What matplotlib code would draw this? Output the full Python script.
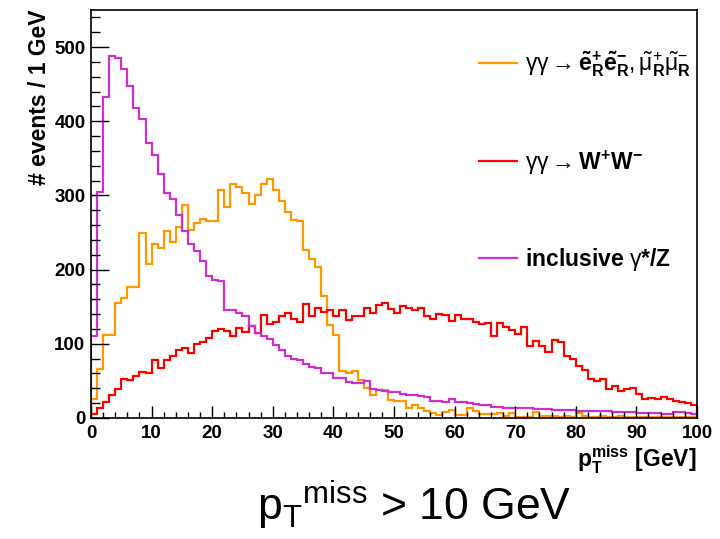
import numpy as np
import matplotlib
matplotlib.use("Agg")
import matplotlib.pyplot as plt

plt.rcParams["font.family"] = ["Liberation Sans", "DejaVu Sans"]
plt.rcParams["mathtext.fontset"] = "custom"
plt.rcParams["mathtext.rm"] = "Liberation Sans"
plt.rcParams["mathtext.it"] = "Liberation Sans:italic"
plt.rcParams["mathtext.bf"] = "Liberation Sans:bold"

# 1 GeV bins from 0 to 100 GeV
bin_edges = np.arange(0, 101)

sleptons = [
    26, 66, 112, 112, 155, 162, 176, 177, 249, 207,
    235, 229, 252, 237, 258, 287, 254, 263, 268, 265,
    266, 307, 285, 315, 312, 303, 288, 300, 315, 322,
    308, 292, 278, 267, 266, 226, 214, 204, 164, 125,
    112, 64, 60, 64, 51, 40, 31, 38, 38, 24,
    23, 23, 13, 18, 13, 10, 7, 4, 8, 11,
    4, 4, 13, 10, 6, 5, 5, 7, 3, 7,
    2, 2, 2, 8, 3, 3, 3, 2, 3, 2,
    7, 3, 2, 2, 3, 2, 2, 3, 2, 2,
    1, 2, 2, 1, 2, 1, 1, 2, 1, 1,
]
ww = [
    5, 14, 21, 31, 39, 53, 51, 57, 62, 60,
    78, 68, 78, 84, 92, 94, 87, 100, 103, 108,
    117, 120, 117, 110, 121, 116, 124, 114, 139, 127,
    130, 137, 142, 133, 130, 153, 137, 148, 143, 145,
    137, 145, 132, 137, 137, 148, 141, 152, 155, 147,
    141, 151, 148, 145, 148, 137, 134, 140, 139, 131,
    139, 133, 134, 130, 127, 128, 111, 128, 123, 119,
    113, 123, 97, 104, 97, 89, 105, 102, 84, 80,
    70, 65, 53, 50, 53, 39, 43, 36, 39, 40,
    32, 26, 27, 25, 28, 25, 23, 22, 20, 17,
]
inclusive = [
    110, 304, 433, 488, 485, 470, 447, 418, 403, 371,
    354, 329, 303, 295, 274, 252, 234, 225, 211, 191,
    186, 185, 146, 146, 141, 138, 124, 115, 111, 107,
    98, 92, 83, 80, 78, 73, 69, 67, 61, 61,
    54, 54, 49, 47, 47, 50, 39, 38, 37, 35,
    35, 33, 31, 31, 29, 28, 23, 23, 22, 26,
    22, 21, 20, 19, 18, 17, 15, 15, 14, 14,
    14, 13, 14, 12, 12, 12, 11, 11, 11, 11,
    9, 9, 9, 9, 9, 9, 8, 8, 8, 8,
    7, 7, 7, 7, 6, 6, 8, 8, 7, 5,
]

labels = [
    r"$\mathrm{\gamma\gamma} \rightarrow \mathbf{\tilde{e}^{+}_{R}\tilde{e}^{-}_{R}}, "
    r"\mathrm{\tilde{\mu}}^{+}_{\mathbf{R}}\mathrm{\tilde{\mu}}^{-}_{\mathbf{R}}$",
    r"$\mathrm{\gamma\gamma} \rightarrow \mathbf{W^{+}W^{-}}$",
    r"inclusive $\mathrm{\gamma}$*/Z",
]
colors = ["#ff9900", "#ff0000", "#cc33cc"]

fig = plt.figure(figsize=(7.2, 5.39), dpi=100)
ax = fig.add_axes([0.1264, 0.2245, 0.8416, 0.757])

handles = []
for vals, col, lab in zip([sleptons, ww, inclusive], colors, labels):
    h = ax.stairs(vals, bin_edges, color=col, linewidth=1.6, label=lab)
    handles.append(h)

ax.set_xlim(0, 100)
ax.set_ylim(0, 550)
ax.set_xticks(np.arange(0, 101, 10))
ax.set_xticks(np.arange(0, 101, 2), minor=True)
ax.set_yticks(np.arange(0, 501, 100))
ax.set_yticks(np.arange(0, 541, 20), minor=True)
ax.tick_params(axis="both", which="both", direction="in", labelsize=13.5, width=1)
ax.tick_params(axis="y", which="major", length=13, pad=4)
ax.tick_params(axis="y", which="minor", length=6.5)
ax.tick_params(axis="x", which="major", length=9, pad=5)
ax.tick_params(axis="x", which="minor", length=4.5)
for lab in ax.get_xticklabels() + ax.get_yticklabels():
    lab.set_fontweight("bold")
for sp in ax.spines.values():
    sp.set_linewidth(1.2)

ax.set_ylabel("# events / 1 GeV", fontsize=16.5, fontweight="bold", loc="top", labelpad=2.5)
ax.set_xlabel(r"$\mathbf{p_{T}^{miss}}$ [GeV]", fontsize=16.5, fontweight="bold",
              loc="right", labelpad=1)

leg = ax.legend(handles=handles, loc="upper left", bbox_to_anchor=(0.64, 0.903),
                frameon=False, prop={"weight": "bold", "size": 16.5},
                borderpad=0, borderaxespad=0,
                handlelength=1.66, handletextpad=0.35, labelspacing=3.02)

fig.text(0.576, 0.035, r"p$_{\mathrm{T}}$$^{\mathrm{miss}}$ > 10 GeV",
         fontsize=32, ha="center", va="baseline")

fig.savefig("out.png", dpi=100)
